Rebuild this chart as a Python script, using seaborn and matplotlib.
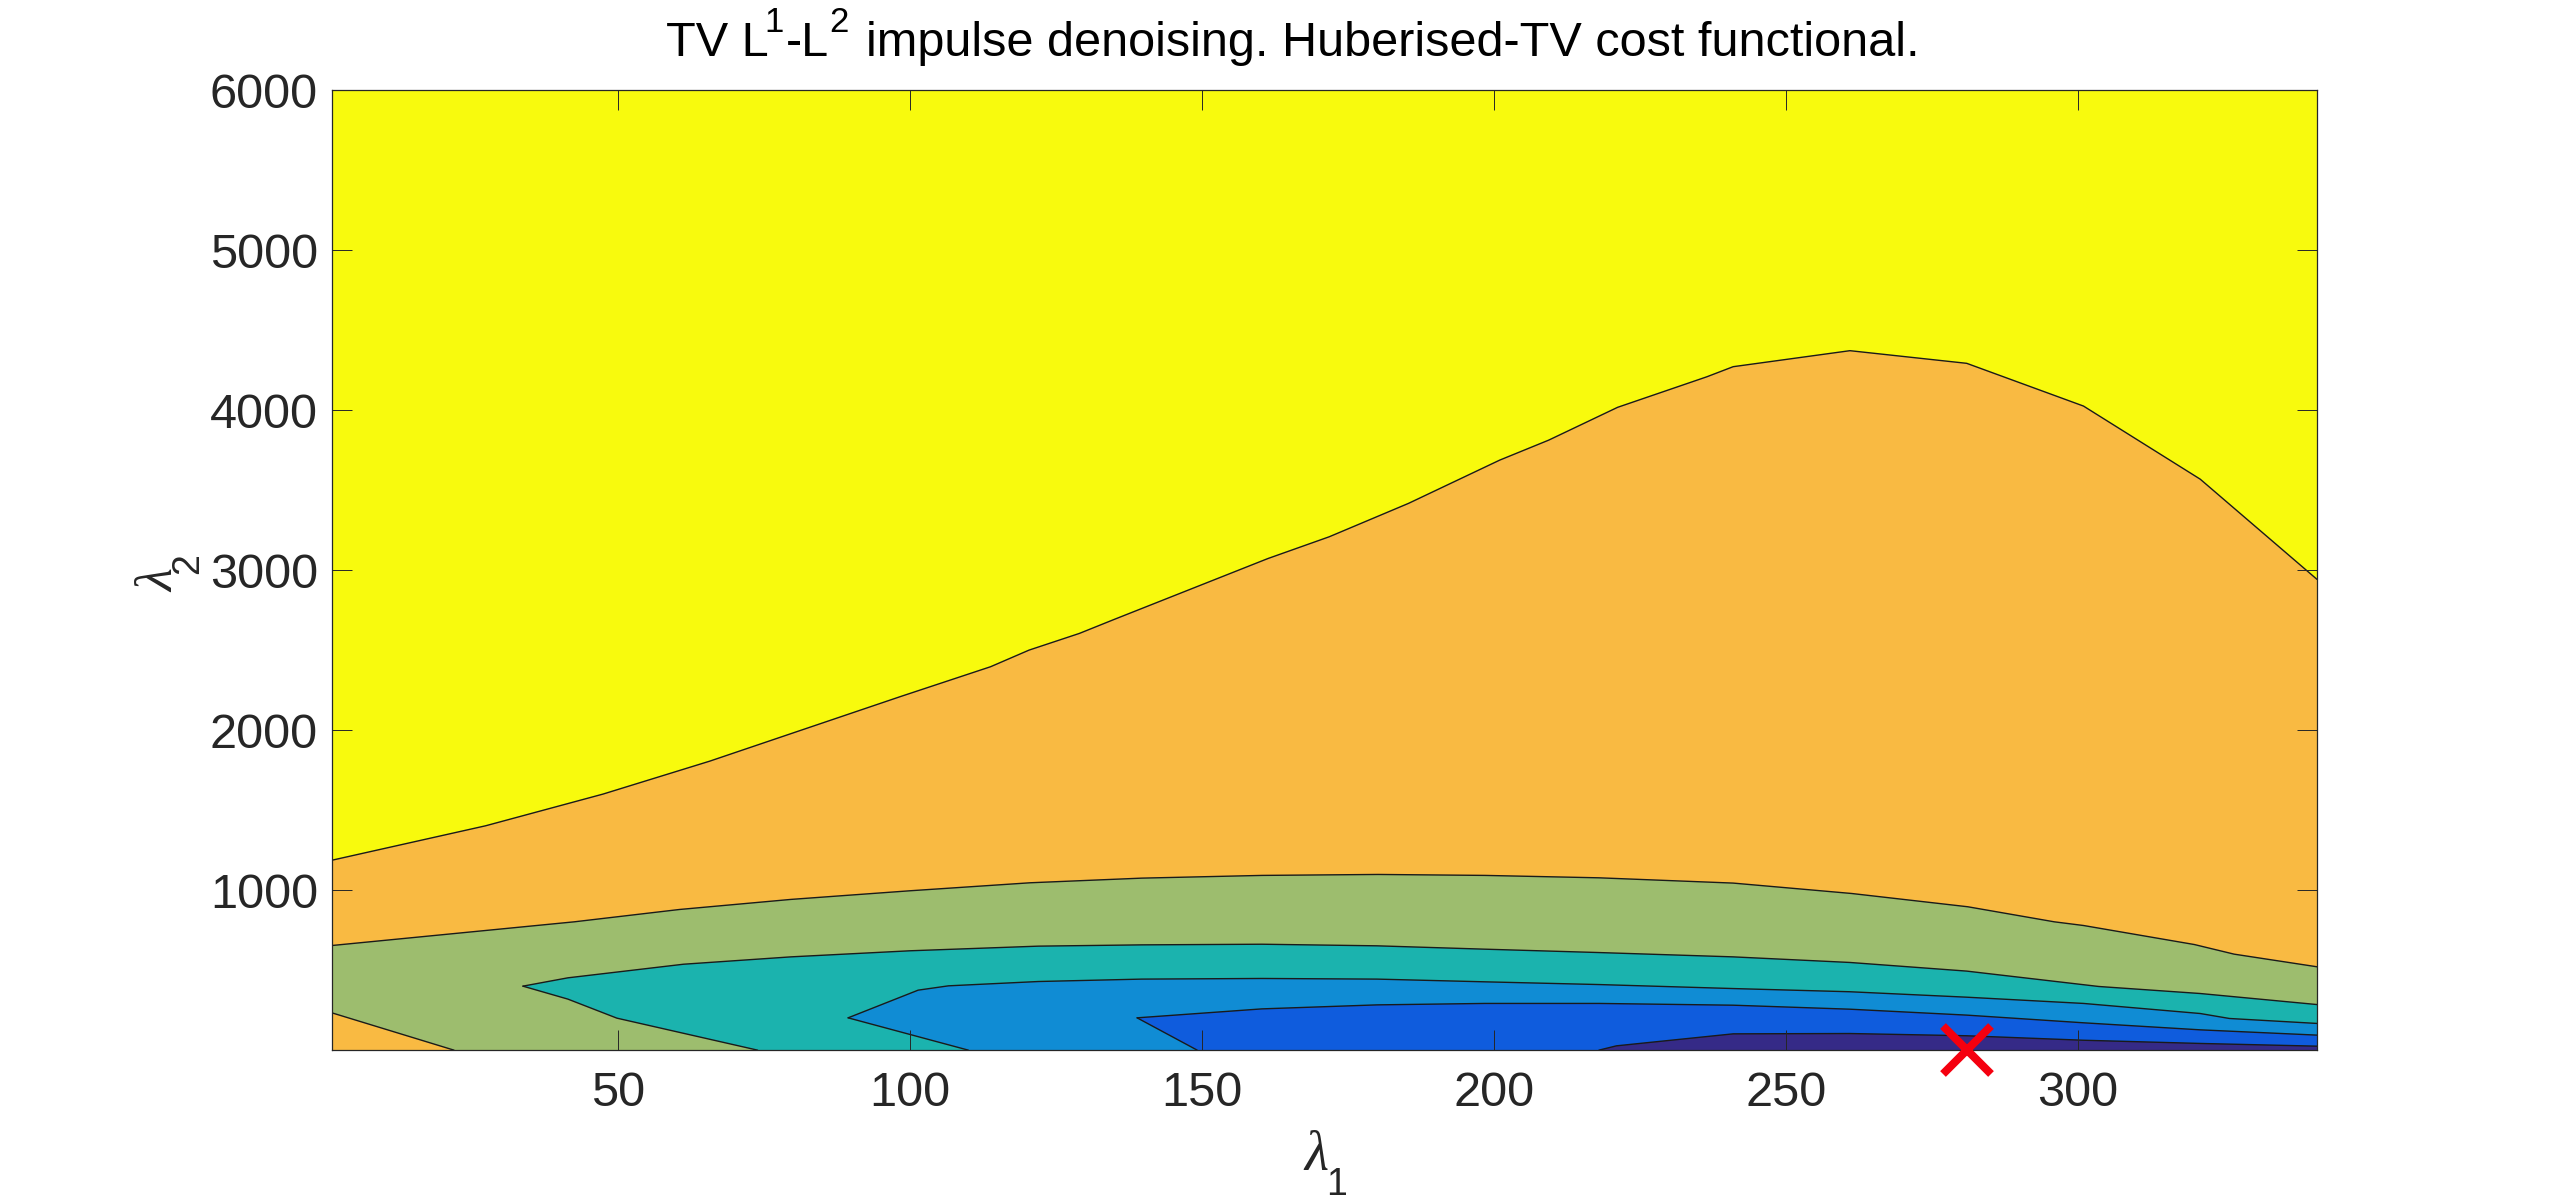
import numpy as np
import matplotlib
matplotlib.use("Agg")
import matplotlib.pyplot as plt
import seaborn as sns

# contour boundaries: (lambda_1, lambda_2)
yellow_x = [1, 27.3, 47.4, 65.7, 98.4, 113.8, 120.4, 129, 135, 161.3, 171.8, 185.4, 201, 209.4, 221.2, 236.5, 241, 261, 281, 301, 321, 341]
yellow_y = [1187, 1402, 1600, 1806, 2210, 2396, 2500, 2604, 2692, 3072, 3208, 3417, 3687, 3812, 4017, 4208, 4271, 4371, 4292, 4025, 3568, 2942]

green_x = [1, 42.5, 60.5, 79.6, 100, 120.6, 139.7, 160.3, 180.2, 198.5, 218, 241, 261.3, 281.2, 296, 301, 320, 326.8, 341]
green_y = [654, 802, 879, 942, 996, 1046, 1075, 1092, 1098, 1092, 1077, 1044, 979, 896, 802, 779, 660, 600, 521]

corner_x = [1, 21.9]
corner_y = [233, 0]

teal_top_x = [33.7, 41.4, 61.2, 79.6, 100, 122, 139.7, 160.3, 180, 198.5, 218, 241, 261, 281, 303.6, 321, 341]
teal_top_y = [400, 452, 537, 583, 621, 650, 658, 662, 652, 631, 610, 583, 548, 494, 398, 354, 285]
teal_low_x = [33.7, 41.4, 49.8, 73.9]
teal_low_y = [400, 319, 200, 0]

blue_top_x = [89.4, 101.4, 106.6, 122, 139.7, 160.3, 180, 198.5, 218, 241, 261, 281, 301, 321, 326, 341]
blue_top_y = [202, 375, 402, 429, 444, 448, 444, 427, 410, 385, 365, 331, 292, 229, 198, 167]
blue_low_x = [89.4, 110]
blue_low_y = [202, 0]

royal_top_x = [138.9, 160.3, 180, 198.5, 218, 241, 261, 281, 301, 321, 341]
royal_top_y = [202, 258, 283, 292, 292, 281, 256, 219, 171, 127, 94]
royal_low_x = [138.9, 149.2]
royal_low_y = [202, 0]

navy_x = [218, 221, 241, 261, 281, 301, 321, 341]
navy_y = [0, 27, 102, 104, 90, 62, 42, 25]

best_x = [281]
best_y = [1]

x_ticks = [50, 100, 150, 200, 250, 300]
y_ticks = [1000, 2000, 3000, 4000, 5000, 6000]

C_YELLOW, C_ORANGE, C_GREEN = "#F8FA0D", "#F9BA42", "#9DBD6E"
C_TEAL, C_BLUE, C_ROYAL, C_NAVY = "#1BB3AE", "#108CD4", "#0F5CDD", "#352A87"

sns.set_theme(style="white")
plt.rcParams.update({"font.family": ["Liberation Sans", "DejaVu Sans"]})

W, H = 2560, 1202
fig = plt.figure(figsize=(W / 100, H / 100), dpi=100, facecolor="white")
ax = fig.add_axes([332 / W, (H - 1050) / H, (2317 - 332) / W, (1050 - 90) / H])
ax.set_facecolor(C_YELLOW)
XMIN, XMAX, YMIN, YMAX = 1, 341, 1, 6000


def region(top_x, top_y, low_x, low_y, color):
    xs = list(top_x) + [XMAX] + list(low_x)[::-1]
    ys = list(top_y) + [0] + list(low_y)[::-1]
    ax.fill(xs, ys, color=color, lw=0, zorder=1)


def edge(x, y):
    sns.lineplot(x=x, y=y, sort=False, estimator=None, color="#1a1a1a", lw=1.0, ax=ax,
                 legend=False, zorder=2)


region(yellow_x, yellow_y, [XMIN], [0], C_ORANGE)
region(green_x, green_y, [XMIN], [0], C_GREEN)
ax.fill(corner_x + [XMIN], corner_y + [0], color=C_ORANGE, lw=0, zorder=1)
region(teal_top_x, teal_top_y, teal_low_x, teal_low_y, C_TEAL)
region(blue_top_x, blue_top_y, blue_low_x, blue_low_y, C_BLUE)
region(royal_top_x, royal_top_y, royal_low_x, royal_low_y, C_ROYAL)
region(navy_x, navy_y, navy_x[:1], navy_y[:1], C_NAVY)

for x, y in [(yellow_x, yellow_y), (green_x, green_y), (corner_x, corner_y),
             (teal_top_x, teal_top_y), (teal_low_x, teal_low_y),
             (blue_top_x, blue_top_y), (blue_low_x, blue_low_y),
             (royal_top_x, royal_top_y), (royal_low_x, royal_low_y),
             (navy_x, navy_y)]:
    edge(x, y)

ax.plot(best_x, best_y, linestyle="none", marker="x", color="#F5000F", markersize=35,
        markeredgewidth=5.8, clip_on=False, zorder=6)

ax.set_xlim(XMIN, XMAX)
ax.set_ylim(YMIN, YMAX)
ax.set_xticks(x_ticks)
ax.set_yticks(y_ticks)
ax.set_xlabel("")
ax.set_ylabel("")
ax.tick_params(axis="both", which="major", direction="in", top=True, right=True, bottom=True, left=True,
               length=14.4, width=0.7, color="#262626", labelcolor="#262626", labelsize=35, zorder=5)
ax.tick_params(axis="x", pad=15)
ax.tick_params(axis="y", pad=10)
ax.set_axisbelow(False)
for s in ax.spines.values():
    s.set_visible(True)
    s.set_linewidth(0.9)
    s.set_color("#262626")
    s.set_zorder(5)


def label(px, py, s, size, color="black", **kw):
    fig.text(px / W, 1 - py / H, s, ha="left", va="baseline", fontsize=size, color=color, **kw)


# title pieces, so that the superscripts sit as high as in the reference
label(666, 56, "TV L", 35)
label(764, 32, "1", 25)
label(786, 56, "-L", 35)
label(829, 32, "2", 25)
label(866, 56, "impulse denoising. Huberised-TV cost functional.", 35)

# axis labels
GREEK = dict(family="Liberation Serif", style="italic")
label(1304, 1170, "\u03bb", 40, "#262626", **GREEK)
label(1326, 1195, "1", 27, "#262626")
label(173, 592, "\u03bb", 38, "#262626", rotation=90, rotation_mode="anchor", **GREEK)
label(198, 574, "2", 27, "#262626", rotation=90, rotation_mode="anchor")

fig.savefig("out.png", dpi=100)
